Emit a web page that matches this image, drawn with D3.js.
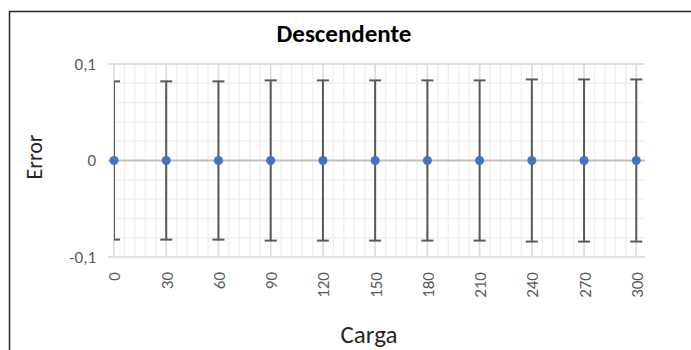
<!DOCTYPE html>
<html>
<head>
<meta charset="utf-8">
<script src="https://cdn.jsdelivr.net/npm/d3@7"></script>
<style>
  body { margin: 0; background: #fff; }
  svg { display: block; font-family: Carlito, Calibri, Lato, sans-serif; }
</style>
</head>
<body>
<div id="chart"></div>
<script>
// Chart data
const carga = [0, 30, 60, 90, 120, 150, 180, 210, 240, 270, 300];
const errorValues = [0, 0, 0, 0, 0, 0, 0, 0, 0, 0, 0];
const errorBars = [0.082, 0.082, 0.082, 0.083, 0.083, 0.083, 0.083, 0.083, 0.084, 0.084, 0.084];
const yTicks = [-0.1, 0, 0.1];
const xTicks = [0, 30, 60, 90, 120, 150, 180, 210, 240, 270, 300];

const width = 691;
const height = 350;
const plot = { left: 114, right: 645, top: 64, bottom: 257 };

const svg = d3
  .select("#chart")
  .append("svg")
  .attr("width", width)
  .attr("height", height);

// Chart border
svg
  .append("rect")
  .attr("x", 9.5)
  .attr("y", 11.5)
  .attr("width", 800)
  .attr("height", 400)
  .attr("fill", "#fff")
  .attr("stroke", "#262626")
  .attr("stroke-width", 1.5);

// Scales
const x = d3.scaleLinear().domain([0, 305]).range([plot.left, plot.right]);
const y = d3.scaleLinear().domain([-0.1, 0.1]).range([plot.bottom, plot.top]);

// Minor gridlines
const minorX = d3.range(0, 305, 6);
const minorY = d3.range(-0.1, 0.1001, 0.02);

svg
  .append("g")
  .selectAll("line")
  .data(minorX)
  .enter()
  .append("line")
  .attr("x1", (d) => x(d))
  .attr("x2", (d) => x(d))
  .attr("y1", plot.top)
  .attr("y2", plot.bottom)
  .attr("stroke", "#f0f0f0")
  .attr("stroke-width", 1.5);

svg
  .append("g")
  .selectAll("line")
  .data(minorY)
  .enter()
  .append("line")
  .attr("x1", plot.left)
  .attr("x2", plot.right)
  .attr("y1", (d) => y(d))
  .attr("y2", (d) => y(d))
  .attr("stroke", "#f0f0f0")
  .attr("stroke-width", 1.5);

// Major gridlines
svg
  .append("g")
  .selectAll("line")
  .data(xTicks)
  .enter()
  .append("line")
  .attr("x1", (d) => x(d))
  .attr("x2", (d) => x(d))
  .attr("y1", plot.top)
  .attr("y2", plot.bottom)
  .attr("stroke", "#dcdcdc")
  .attr("stroke-width", 1.5);

svg
  .append("g")
  .selectAll("line")
  .data(yTicks)
  .enter()
  .append("line")
  .attr("x1", plot.left - 6)
  .attr("x2", plot.right)
  .attr("y1", (d) => y(d))
  .attr("y2", (d) => y(d))
  .attr("stroke", (d) => (d === 0 ? "#bfbfbf" : "#d9d9d9"))
  .attr("stroke-width", (d) => (d === 0 ? 2 : 1.5));

// Y axis labels
const yAxis = svg
  .append("g")
  .attr("transform", `translate(${plot.left},0)`)
  .call(
    d3
      .axisLeft(y)
      .tickValues(yTicks)
      .tickSize(0)
      .tickPadding(18)
      .tickFormat((d) => (d === 0 ? "0" : d3.format(".1f")(d).replace(".", ",").replace("−", "-")))
  );
yAxis.select(".domain").remove();
yAxis
  .selectAll("text")
  .attr("font-family", "Carlito, Calibri, Lato, sans-serif")
  .attr("font-size", 17)
  .attr("fill", "#595959");

// X axis labels (rotated)
const xAxis = svg
  .append("g")
  .attr("transform", `translate(0,${plot.bottom})`)
  .call(d3.axisBottom(x).tickValues(xTicks).tickSize(0).tickFormat(d3.format("d")));
xAxis.select(".domain").remove();
xAxis
  .selectAll("text")
  .attr("font-family", "Carlito, Calibri, Lato, sans-serif")
  .attr("font-size", 17)
  .attr("fill", "#595959")
  .attr("transform", "rotate(-90)")
  .attr("x", -15)
  .attr("y", 0)
  .attr("dy", "0.35em")
  .style("text-anchor", "end");

// Error bars (clipped to plot area)
svg
  .append("clipPath")
  .attr("id", "plot-clip")
  .append("rect")
  .attr("x", plot.left)
  .attr("y", plot.top - 2)
  .attr("width", plot.right - plot.left)
  .attr("height", plot.bottom - plot.top + 4);

const points = carga.map((c, i) => ({ x: c, y: errorValues[i], e: errorBars[i] }));

const errG = svg.append("g").attr("clip-path", "url(#plot-clip)");
errG
  .selectAll(".err")
  .data(points)
  .enter()
  .append("line")
  .attr("x1", (d) => x(d.x))
  .attr("x2", (d) => x(d.x))
  .attr("y1", (d) => y(d.y + d.e))
  .attr("y2", (d) => y(d.y - d.e))
  .attr("stroke", "#595959")
  .attr("stroke-width", 2);

["top", "bottom"].forEach((side) => {
  errG
    .selectAll(".cap-" + side)
    .data(points)
    .enter()
    .append("line")
    .attr("x1", (d) => x(d.x) - 6)
    .attr("x2", (d) => x(d.x) + 6)
    .attr("y1", (d) => y(side === "top" ? d.y + d.e : d.y - d.e))
    .attr("y2", (d) => y(side === "top" ? d.y + d.e : d.y - d.e))
    .attr("stroke", "#595959")
    .attr("stroke-width", 2);
});

// Markers
svg
  .append("g")
  .selectAll("circle")
  .data(points)
  .enter()
  .append("circle")
  .attr("cx", (d) => x(d.x))
  .attr("cy", (d) => y(d.y))
  .attr("r", 4.5)
  .attr("fill", "#4472c4");

// Title
svg
  .append("text")
  .attr("x", 344)
  .attr("y", 42)
  .attr("text-anchor", "middle")
  .attr("font-size", 25)
  .attr("font-weight", "bold")
  .attr("fill", "#000")
  .text("Descendente");

// Axis titles
svg
  .append("text")
  .attr("transform", "translate(42,157) rotate(-90)")
  .attr("text-anchor", "middle")
  .attr("font-size", 22)
  .attr("fill", "#262626")
  .text("Error");

svg
  .append("text")
  .attr("x", 369)
  .attr("y", 343)
  .attr("text-anchor", "middle")
  .attr("font-size", 25)
  .attr("fill", "#262626")
  .text("Carga");
</script>
</body>
</html>
